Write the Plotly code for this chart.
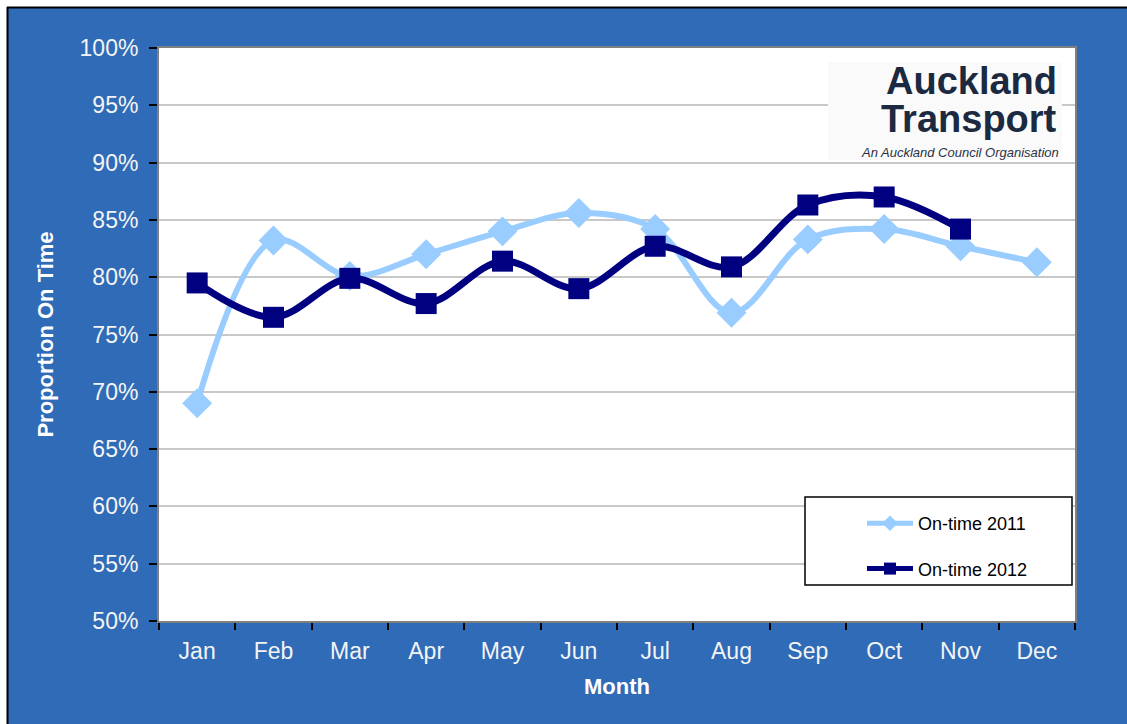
import plotly.graph_objects as go

months = ["Jan", "Feb", "Mar", "Apr", "May", "Jun", "Jul", "Aug", "Sep", "Oct", "Nov", "Dec"]
on_time_2011 = [0.690, 0.832, 0.801, 0.820, 0.840, 0.856, 0.842, 0.769, 0.833, 0.842, 0.827, 0.813]
on_time_2012 = [0.795, 0.765, 0.799, 0.777, 0.814, 0.790, 0.827, 0.809, 0.863, 0.870, 0.842, None]
y_ticks = [0.50, 0.55, 0.60, 0.65, 0.70, 0.75, 0.80, 0.85, 0.90, 0.95, 1.00]

BLUE_BG = "#2F6BB6"
W, H = 1127, 724
L, R, T, B = 159, 52, 48, 103
PW, PH = W - L - R, H - T - B


def px(x):
    return (x - L) / PW


def py(y):
    return (H - B - y) / PH


fig = go.Figure()
fig.add_trace(go.Scatter(
    x=months, y=on_time_2011, name="On-time 2011", mode="lines+markers",
    line=dict(color="#99CCFF", width=6, shape="spline", smoothing=1.0),
    marker=dict(symbol="diamond", size=23, color="#99CCFF"),
    legendgroup="a",
))
fig.add_trace(go.Scatter(
    x=months, y=on_time_2012, name="On-time 2012", mode="lines+markers",
    line=dict(color="#000080", width=7, shape="spline", smoothing=1.0),
    marker=dict(symbol="square", size=21, color="#000080"),
    legendgroup="b",
))

font_main = "Liberation Sans, Arial, sans-serif"

shapes = [
    # white outer strips and black frame
    dict(type="rect", xref="paper", yref="paper", x0=-0.3, x1=px(7), y0=-0.5, y1=1.5,
         fillcolor="white", line=dict(width=0), layer="below"),
    dict(type="rect", xref="paper", yref="paper", x0=-0.3, x1=1.3, y0=py(7), y1=1.5,
         fillcolor="white", line=dict(width=0), layer="below"),
    dict(type="line", xref="paper", yref="paper", x0=px(7.5), x1=px(7.5), y0=py(7), y1=-0.5,
         line=dict(color="black", width=2), layer="below"),
    dict(type="line", xref="paper", yref="paper", x0=px(7), x1=1.3, y0=py(7.5), y1=py(7.5),
         line=dict(color="black", width=2), layer="below"),
    # logo background
    dict(type="rect", xref="paper", yref="paper", x0=px(828), x1=px(1062), y0=py(160), y1=py(62),
         fillcolor="#FAFAFA", line=dict(width=0), layer="above"),
    # legend box
    dict(type="rect", xref="paper", yref="paper", x0=px(805), x1=px(1072), y0=py(585), y1=py(497),
         fillcolor="white", line=dict(color="black", width=1.5), layer="above"),
]

annotations = [
    dict(text="<b>Auckland</b>", xref="paper", yref="paper", x=px(1059), y=py(81),
         xanchor="right", yanchor="middle", showarrow=False,
         font=dict(family=font_main, size=38, color="#1B2A41")),
    dict(text="<b>Transport</b>", xref="paper", yref="paper", x=px(1059), y=py(119),
         xanchor="right", yanchor="middle", showarrow=False,
         font=dict(family=font_main, size=38, color="#1B2A41")),
    dict(text="<i>An Auckland Council Organisation</i>", xref="paper", yref="paper",
         x=px(1061), y=py(152), xanchor="right", yanchor="middle", showarrow=False,
         font=dict(family=font_main, size=13, color="#2A3245")),
]

fig.update_layout(
    width=W, height=H,
    margin=dict(l=L, r=R, t=T, b=B, pad=0),
    paper_bgcolor=BLUE_BG,
    plot_bgcolor="white",
    font=dict(family=font_main, color="white"),
    showlegend=True,
    legend=dict(
        x=px(862), y=py(505), xanchor="left", yanchor="top",
        bgcolor="rgba(0,0,0,0)", borderwidth=0,
        font=dict(family=font_main, size=18, color="black"),
        tracegroupgap=19, itemwidth=46, itemsizing="constant",
    ),
    shapes=shapes,
    annotations=annotations,
    xaxis=dict(
        type="category", categoryorder="array", categoryarray=months,
        range=[-0.5, 11.5],
        tickson="boundaries", ticks="outside", ticklen=7, tickcolor="black", tickwidth=1.5,
        showline=True, linecolor="#808080", linewidth=2, mirror=True,
        showgrid=False, zeroline=False, ticklabelstandoff=8,
        tickfont=dict(family=font_main, size=23, color="#F4F4F4"),
        title=dict(text="<b>Month</b>", font=dict(family=font_main, size=22, color="white"), standoff=16),
    ),
    yaxis=dict(
        range=[0.5, 1.0], tickvals=y_ticks, tickformat=".0%",
        ticks="outside", ticklen=8, tickcolor="black", tickwidth=1.5,
        showline=True, linecolor="#808080", linewidth=2, mirror=True,
        showgrid=True, gridcolor="#C8C8C8", gridwidth=1.5, zeroline=False,
        ticklabelstandoff=6,
        tickfont=dict(family=font_main, size=23, color="#F4F4F4"),
        title=dict(text="<b>Proportion On Time</b>", font=dict(family=font_main, size=22, color="white"), standoff=20),
    ),
)

fig.write_html(
    "out.html",
    config={"displayModeBar": False},
    post_script="document.body.style.margin='0';document.body.style.overflow='hidden';",
)
